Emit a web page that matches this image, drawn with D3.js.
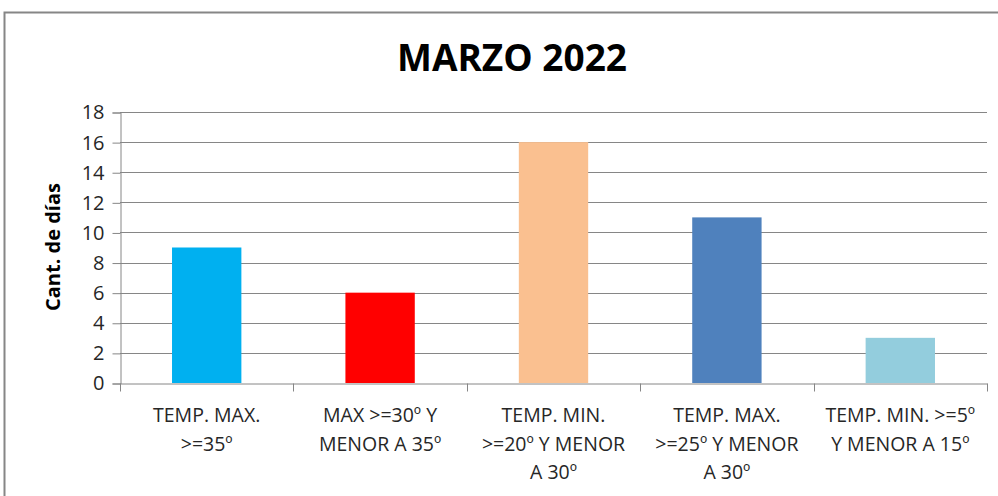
<!DOCTYPE html>
<html>
<head>
<meta charset="utf-8">
<script src="https://cdn.jsdelivr.net/npm/d3@7"></script>
<style>
  body { margin: 0; background: #fff; }
  svg { display: block; }
</style>
</head>
<body>
<svg id="chart" width="998" height="496"></svg>
<script>
// data
var categories = [
    'TEMP. MAX.|>=35º',
    'MAX >=30º Y|MENOR A 35º',
    'TEMP. MIN.|>=20º Y MENOR|A 30º',
    'TEMP. MAX.|>=25º Y MENOR|A 30º',
    'TEMP. MIN. >=5º|Y MENOR A 15º'
];
var values = [9, 6, 16, 11, 3];
var colors = ['#00B0F0', '#FF0000', '#FAC090', '#4F81BD', '#93CDDD'];
var y_ticks = [0, 2, 4, 6, 8, 10, 12, 14, 16, 18];

var font = "'Open Sans', 'Liberation Sans', sans-serif";
var svg = d3.select('#chart');
var margin = { left: 120, right: 11, top: 112, bottom: 113 };
var W = 998, H = 496;

// outer chart frame
svg.append('rect')
    .attr('x', 4.5).attr('y', 12.5)
    .attr('width', W + 10).attr('height', H + 10)
    .attr('fill', 'none')
    .attr('stroke', '#868686')
    .attr('stroke-width', 2);

var x = d3.scaleBand()
    .domain(categories)
    .range([margin.left, W - margin.right])
    .paddingInner(0).paddingOuter(0);

var y = d3.scaleLinear()
    .domain([0, 18])
    .range([H - margin.bottom, margin.top]);

// gridlines
svg.append('g')
    .selectAll('line')
    .data(y_ticks.filter(d => d > 0))
    .join('line')
    .attr('x1', margin.left).attr('x2', W - margin.right)
    .attr('y1', d => Math.round(y(d)) + 0.5)
    .attr('y2', d => Math.round(y(d)) + 0.5)
    .attr('stroke', '#868686')
    .attr('stroke-width', 1);

// bars
var bw = x.bandwidth() * 0.4;
svg.append('g')
    .selectAll('rect')
    .data(values)
    .join('rect')
    .attr('x', (d, i) => x(categories[i]) + (x.bandwidth() - bw) / 2)
    .attr('width', bw)
    .attr('y', d => y(d))
    .attr('height', d => y(0) - y(d))
    .attr('fill', (d, i) => colors[i]);

// y axis
var yAxis = d3.axisLeft(y).tickValues(y_ticks).tickSize(8).tickPadding(8);
var gy = svg.append('g')
    .attr('transform', `translate(${margin.left + 0.5},0.5)`)
    .call(yAxis);
gy.selectAll('.domain, line').attr('stroke', '#868686');
gy.selectAll('text')
    .attr('font-family', font)
    .attr('font-size', 20)
    .attr('fill', '#262626');

// x axis
var xAxis = d3.axisBottom(x).tickSizeOuter(0).tickSize(0).tickFormat('');
var gx = svg.append('g')
    .attr('transform', `translate(0,${Math.round(y(0)) + 0.5})`)
    .call(xAxis);
gx.select('.domain').attr('stroke', '#868686');
// category separators
var bounds = categories.map(c => x(c)).concat([W - margin.right]);
gx.selectAll('line.sep')
    .data(bounds)
    .join('line')
    .attr('class', 'sep')
    .attr('x1', d => Math.round(d) + 0.5).attr('x2', d => Math.round(d) + 0.5)
    .attr('y1', 0).attr('y2', 8)
    .attr('stroke', '#868686');

// category labels
var labels = svg.append('g')
    .attr('font-family', font)
    .attr('font-size', 19.5)
    .attr('fill', '#262626')
    .attr('text-anchor', 'middle');
categories.forEach(c => {
    var t = labels.append('text')
        .attr('x', x(c) + x.bandwidth() / 2)
        .attr('y', 422);
    c.split('|').forEach((line, j) => {
        t.append('tspan')
            .attr('x', x(c) + x.bandwidth() / 2)
            .attr('dy', j == 0 ? 0 : 28.5)
            .text(line);
    });
});

// y axis title
svg.append('text')
    .attr('transform', 'translate(60,247) rotate(-90)')
    .attr('text-anchor', 'middle')
    .attr('font-family', font)
    .attr('font-size', 20)
    .attr('font-weight', 'bold')
    .attr('fill', '#000')
    .text('Cant. de días');

// title
svg.append('text')
    .attr('x', 512)
    .attr('y', 71)
    .attr('text-anchor', 'middle')
    .attr('font-family', font)
    .attr('font-size', 37)
    .attr('font-weight', 'bold')
    .attr('fill', '#000')
    .text('MARZO 2022');
</script>
</body>
</html>
